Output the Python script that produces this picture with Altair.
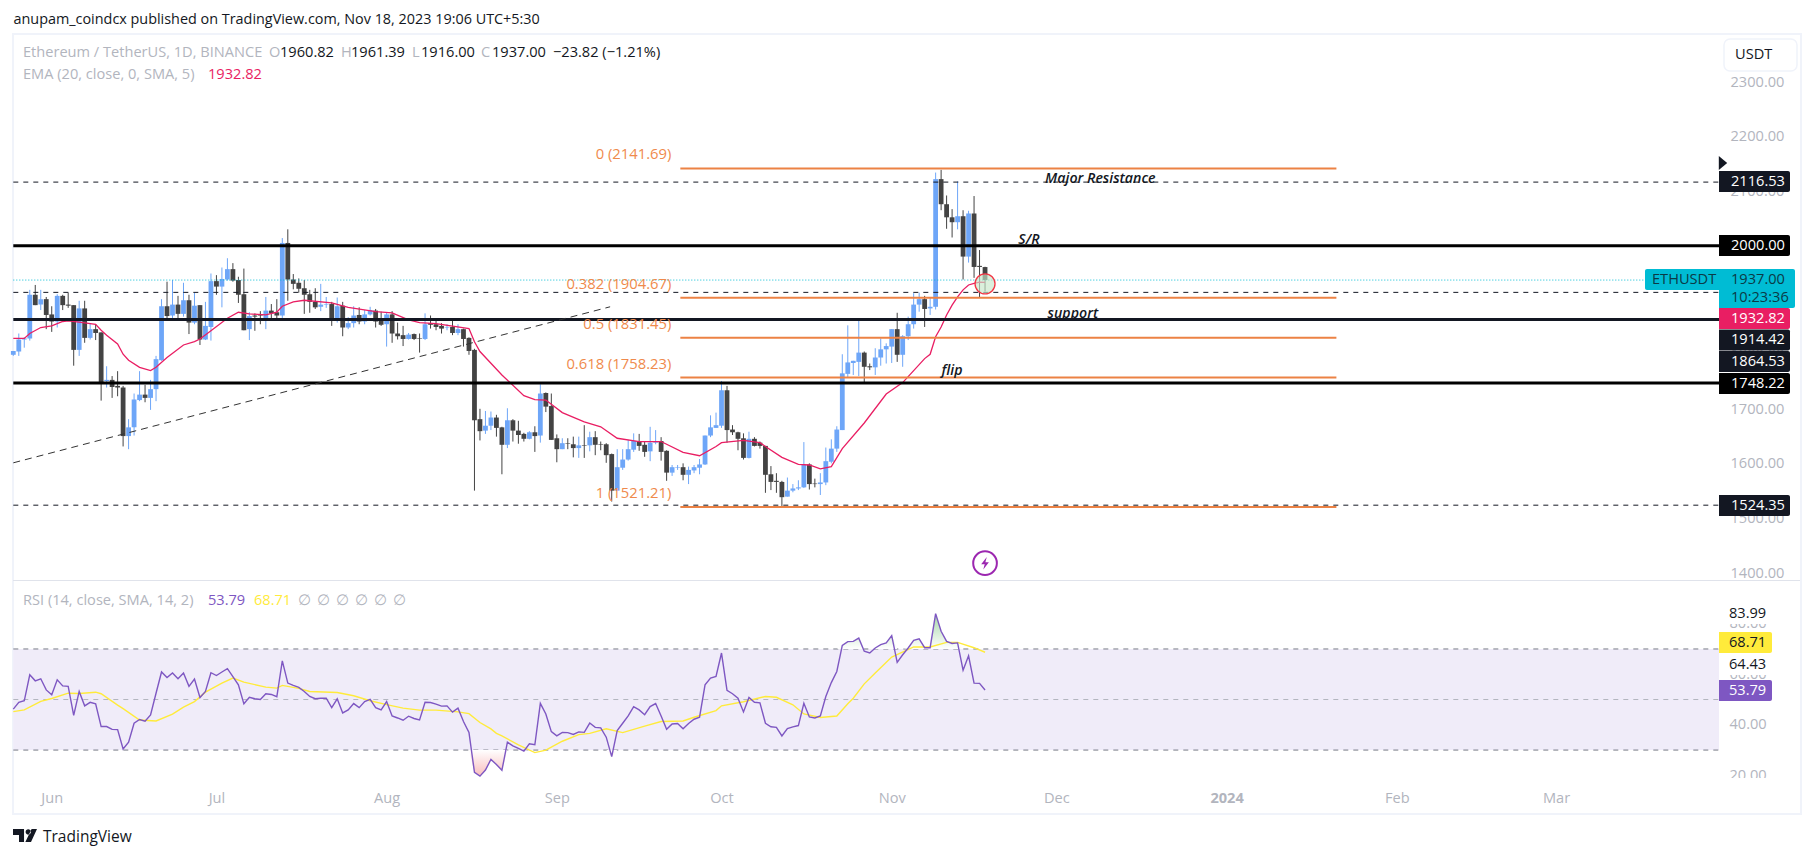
import altair as alt
import pandas as pd

FONT = "Open Sans"
W, H = 1798, 838

opens = [1800,1806,1828,1830,1910,1892,1902,1874,1861,1908,
1892,1891,1809,1885,1831,1847,1841,1752,1754,1743,
1740,1651,1667,1717,1727,1721,1737,1790,1889,1872,
1892,1875,1900,1859,1891,1828,1851,1935,1925,1938,
1957,1937,1911,1847,1872,1874,1862,1881,1878,1872,
2005,1938,1932,1922,1911,1897,1888,1892,1893,1866,
1890,1850,1858,1873,1861,1874,1881,1864,1856,1874,
1839,1836,1829,1838,1830,1829,1858,1856,1853,1850,
1851,1840,1847,1831,1809,1682,1661,1670,1685,1667,
1635,1680,1661,1655,1646,1658,1652,1730,1706,1647,
1627,1638,1636,1629,1634,1634,1649,1636,1636,1618,
1551,1593,1608,1626,1641,1635,1623,1639,1642,1624,
1584,1593,1594,1580,1588,1593,1599,1652,1666,1670,
1735,1663,1658,1647,1611,1646,1639,1633,1581,1569,
1567,1540,1551,1555,1557,1599,1564,1563,1566,1604,
1628,1662,1765,1785,1787,1804,1779,1777,1795,1810,
1815,1847,1800,1834,1856,1892,1902,1885,1888,2122,
2076,2052,2043,2054,1980,2059,1963,1960.82]

highs = [1807,1839,1832,1919,1928,1919,1906,1889,1911,1910,
1914,1891,1899,1899,1858,1856,1841,1779,1761,1770,
1743,1682,1729,1770,1745,1754,1798,1902,1934,1937,
1908,1932,1910,1914,1891,1897,1949,1946,1960,1977,
1968,1943,1958,1878,1876,1880,1906,1893,1902,2014,
2030,1948,1940,1937,1919,1922,1930,1906,1897,1905,
1897,1869,1889,1887,1882,1888,1884,1879,1878,1880,
1859,1853,1840,1839,1839,1876,1872,1865,1858,1856,
1862,1856,1848,1832,1811,1701,1697,1696,1690,1668,
1702,1682,1679,1657,1660,1669,1746,1731,1729,1654,
1647,1647,1650,1650,1671,1659,1660,1641,1638,1619,
1627,1627,1644,1656,1655,1641,1668,1662,1649,1625,
1598,1598,1601,1595,1598,1609,1652,1689,1694,1752,
1743,1671,1659,1656,1659,1649,1641,1633,1596,1583,
1569,1575,1563,1570,1640,1601,1573,1583,1630,1645,
1669,1801,1854,1789,1865,1806,1784,1812,1830,1821,
1847,1877,1836,1870,1913,1914,1908,1906,2134,2139,
2092,2067,2118,2065,2064,2091,1992,1961.39]

lows = [1798,1798,1813,1826,1891,1882,1847,1842,1850,1882,
1886,1780,1798,1822,1828,1827,1716,1740,1721,1724,
1632,1627,1652,1715,1713,1699,1715,1789,1866,1862,
1867,1870,1838,1856,1818,1827,1826,1910,1887,1936,
1934,1895,1845,1827,1844,1856,1847,1866,1867,1865,
1899,1920,1914,1875,1877,1884,1880,1886,1853,1859,
1834,1847,1850,1856,1856,1872,1850,1853,1815,1822,
1828,1816,1828,1827,1804,1827,1848,1845,1839,1845,
1836,1836,1815,1800,1551,1643,1655,1662,1650,1581,
1629,1641,1637,1641,1645,1622,1639,1695,1644,1603,
1627,1627,1612,1611,1611,1623,1616,1625,1602,1531,
1551,1589,1606,1622,1624,1613,1605,1636,1606,1569,
1578,1589,1570,1563,1583,1581,1598,1649,1666,1666,
1639,1653,1625,1608,1610,1632,1628,1547,1552,1547,
1520,1540,1548,1552,1556,1553,1557,1543,1561,1601,
1622,1662,1759,1763,1761,1749,1772,1763,1780,1784,
1785,1787,1778,1827,1848,1879,1851,1873,1883,2065,
2031,2015,2030,1938,1969,1941,1905,1916]

closes = [1807,1828,1830,1910,1891,1902,1873,1861,1908,1891,
1890,1809,1885,1831,1847,1840,1748,1754,1741,1740,
1651,1667,1718,1727,1721,1737,1792,1889,1871,1892,
1875,1900,1859,1890,1828,1853,1935,1925,1939,1957,
1936,1910,1845,1871,1870,1872,1881,1876,1872,2005,
1938,1930,1921,1910,1897,1887,1892,1893,1866,1889,
1850,1858,1872,1861,1874,1882,1861,1855,1874,1839,
1834,1829,1837,1829,1829,1856,1855,1851,1848,1851,
1840,1847,1829,1807,1680,1660,1670,1685,1666,1635,
1680,1661,1653,1646,1658,1651,1729,1705,1644,1627,
1638,1637,1629,1634,1633,1649,1635,1635,1616,1551,
1594,1608,1627,1642,1633,1622,1639,1642,1622,1584,
1594,1594,1580,1589,1594,1599,1652,1667,1671,1735,
1662,1658,1646,1611,1646,1633,1633,1580,1567,1567,
1539,1551,1555,1557,1599,1563,1563,1566,1605,1628,
1663,1766,1786,1789,1804,1778,1777,1795,1810,1816,
1847,1800,1834,1856,1892,1902,1884,1888,2122,2076,
2052,2043,2054,1980,2059,1961,1961,1937]

ema_idx = [1,3,4,6,8,10,11,13,16,17,18,20,21,22,24,26,27,29,32,34,35,37,40,42,44,47,49,50,52,54,
59,62,67,70,73,75,78,84,85,86,90,94,96,98,101,105,108,111,115,119,123,126,129,130,134,137,138,
141,144,146,148,150,152,156,160,163,165,167,168,169,170,171,172,173,174,175,176,177,178]
ema_val = [1830,1830,1839,1850,1853,1861,1862,1860,1856,1845,1836,1820,1801,1790,1777,1771,1777,
1795,1818,1824,1829,1844,1867,1878,1875,1873,1878,1889,1897,1900,1895,1887,1879,1877,1864,1859,
1857,1848,1824,1806,1763,1725,1718,1717,1694,1677,1668,1647,1641,1641,1621,1615,1632,1639,1643,
1639,1632,1612,1599,1598,1591,1595,1628,1675,1728,1749,1771,1793,1801,1833,1851,1873,1891,1906,
1919,1928,1931,1933,1932.82]

rsi = [46.2,48.9,49.5,59.8,57.4,58.2,53.8,51.9,57.8,55.4,55.2,43.7,53.2,47.5,48.9,48.3,39.3,39.3,
38.2,38.1,30.4,33.1,40.6,42.1,41.4,43.9,52.5,60.9,58.7,60.5,58.2,60.5,55.2,58.1,50.8,53.2,60.6,
59.5,60.9,62.2,59.1,55.8,48.3,50.9,50.3,50.0,52.3,52.0,51.1,65.3,56.5,55.6,54.8,53.2,51.2,50.3,
50.5,50.5,46.8,50.3,44.7,45.9,48.4,46.8,49.2,50.1,46.8,45.9,49.2,43.5,42.7,41.8,43.4,42.5,41.9,
48.9,48.8,48.2,47.4,47.5,45.0,46.6,41.3,37.0,21.2,19.7,22.1,26.3,24.3,
22.0,33.1,31.7,30.7,29.6,32.5,32.1,48.5,44.3,37.3,35.6,37.0,36.9,36.2,37.2,37.0,40.7,39.0,38.8,
35.1,27.4,37.7,40.6,43.5,47.2,45.9,44.0,47.2,48.4,43.5,38.2,40.3,40.5,38.4,40.5,42.2,43.0,55.8,
58.5,59.1,68.4,53.6,52.3,50.5,45.1,50.8,48.9,48.7,40.6,39.2,39.0,35.6,38.5,39.2,39.7,48.5,43.1,
42.7,43.5,51.2,56.7,61.1,71.4,72.9,73.0,74.3,69.1,68.4,70.4,71.7,72.4,75.3,64.7,67.7,70.4,73.4,
74.0,70.5,70.5,84.0,77.0,73.0,72.2,72.4,61.6,67.3,56.5,56.4,53.79]

ma_idx = [1,3,6,8,11,13,16,17,20,21,24,27,30,32,34,36,39,41,43,47,49,50,53,55,60,63,66,69,72,75,
78,82,84,86,88,89,90,93,96,98,101,104,106,109,112,116,119,123,125,129,130,134,138,140,143,145,
148,151,153,154,156,158,161,165,168,171,173,176,178]
ma_val = [45.2,45.9,49.3,50.4,52.5,52.4,52.9,52.3,47.8,46.4,41.9,41.5,44.2,47.0,49.2,52.9,56.5,
58.5,56.9,54.9,54.5,55.6,54.4,53.2,52.8,51.5,49.5,48.0,46.6,45.8,45.8,45.1,44.4,40.9,38.4,36.6,
35.6,32.1,29.0,30.0,33.5,36.1,36.6,38.4,36.9,39.5,41.3,41.5,43.0,45.6,47.5,49.1,51.2,50.9,47.9,
44.3,42.9,43.5,48.3,50.5,56.2,60.5,66.8,70.8,70.8,72.6,72.6,70.5,68.71]

thick_levels = [2000.0, 1864.53, 1748.22]
thick_colors = ["#000000", "#131722", "#000000"]
dashed_levels = [2116.53, 1914.42, 1524.35]
fib_levels = [2141.69, 1904.67, 1831.45, 1758.23, 1521.21]
fib_labels = ["0 (2141.69)", "0.382 (1904.67)", "0.5 (1831.45)", "0.618 (1758.23)", "1 (1521.21)"]
notes = ["Major Resistance", "S/R", "support", "flip"]
note_dates = ["2023-12-09", "2023-11-26", "2023-12-04", "2023-11-12"]
note_prices = [2122, 2010, 1875, 1770]
month_ticks = ["2023-06-01", "2023-07-01", "2023-08-01", "2023-09-01", "2023-10-01",
               "2023-11-01", "2023-12-01", "2024-01-01", "2024-02-01", "2024-03-01"]
trend_dates = ["2023-05-25", "2023-09-10T17:00:00"]
trend_prices = [1602, 1888]
price_ticks = [1400, 1500, 1600, 1700, 1800, 1900, 2000, 2100, 2200, 2300]
rsi_ticks = [20, 40, 60, 80]


def ms(s):
    return int((pd.Timestamp(s) - pd.Timestamp("1970-01-01")) // pd.Timedelta(milliseconds=1))


dates = [ms("2023-05-25") + i * 86400000 for i in range(len(closes))]
x0 = dates[0]
x1 = x0 + int(310.69 * 86400000)
x_scale = alt.Scale(type="utc", domain=[x0, x1], range=[5.3, 1711], nice=False, padding=0)
y_price = alt.Scale(domain=[1387.2, 2388], range=[572, 26], nice=False, zero=False)
y_rsi = alt.Scale(domain=[14.2, 96.9], range=[782, 573], nice=False, zero=False)

GREY = "#b2b5be"
TS = 14.6
x_axis = alt.Axis(
    values=[ms(d) for d in month_ticks], title=None, grid=False, domain=False, ticks=False,
    orient="bottom", offset=-58, labelPadding=2, labelFont=FONT, labelFontSize=TS, labelColor=GREY,
    labelOverlap=False, labelFlush=False,
    labelExpr="utcmonth(datum.value)==0 ? '2024' : utcFormat(datum.value,'%b')",
    labelFontWeight={"condition": {"test": "utcmonth(datum.value)==0", "value": "bold"}, "value": "normal"},
)
price_axis = alt.Axis(values=price_ticks, format=".2f", title=None, grid=False, domain=False, ticks=False,
                      orient="right", offset=-87, labelPadding=11, labelFont=FONT, labelFontSize=TS,
                      labelColor=GREY, labelOverlap=False, labelFlush=False)
rsi_axis = alt.Axis(values=rsi_ticks, format=".2f", title=None, grid=False, domain=False, ticks=False,
                    orient="right", offset=-87, labelPadding=10, labelFont=FONT, labelFontSize=TS,
                    labelColor=GREY, labelOverlap=False, labelFlush=False)

X = alt.X("date:T", scale=x_scale, axis=x_axis, title=None)
PY = lambda f: alt.Y(f, scale=y_price, axis=price_axis, title=None)
RY = lambda f: alt.Y(f, scale=y_rsi, axis=rsi_axis, title=None)
dir_color = alt.Color("dir:N", scale=alt.Scale(domain=["up", "down"], range=["#6ea6f8", "#434343"]), legend=None)

candles = pd.DataFrame({"date": dates, "open": opens, "high": highs, "low": lows, "close": closes})
candles["dir"] = ["up" if c >= o else "down" for o, c in zip(opens, closes)]

wicks = alt.Chart(candles).mark_rule(strokeWidth=1).encode(x=X, y=PY("low:Q"), y2="high:Q", color=dir_color)
bodies = alt.Chart(candles).mark_bar(size=4.8, stroke=None).encode(
    x=X, y=PY("open:Q"), y2="close:Q", color=dir_color)
ema_df = pd.DataFrame({"date": [dates[i - 1] for i in ema_idx], "v": ema_val})
ema = alt.Chart(ema_df).mark_line(color="#e91e63", strokeWidth=1.3).encode(x=X, y=PY("v:Q"))


def hrules(levels, start, end):
    return pd.DataFrame({"date": [start] * len(levels), "date2": [end] * len(levels), "p": levels})


thick = alt.layer(*[
    alt.Chart(hrules([lv], x0, x1)).mark_rule(strokeWidth=3, color=col).encode(x=X, x2="date2:T", y=PY("p:Q"))
    for lv, col in zip(thick_levels, thick_colors)])
dashed = alt.Chart(hrules(dashed_levels, x0, x1)).mark_rule(strokeWidth=1, color="#131722", strokeDash=[5, 5]).encode(
    x=X, x2="date2:T", y=PY("p:Q"))
last_dot = alt.Chart(hrules([closes[-1]], x0, x0 + int(297.2 * 86400000))).mark_rule(
    strokeWidth=1, color="#00bcd4", strokeDash=[1, 2]).encode(x=X, x2="date2:T", y=PY("p:Q"))
fib_a, fib_b = ms("2023-09-23T12:00:00"), ms("2024-01-21")
fib = alt.Chart(hrules(fib_levels, fib_a, fib_b)).mark_rule(strokeWidth=2, color="#ec8244").encode(
    x=X, x2="date2:T", y=PY("p:Q"))
fib_df = hrules(fib_levels, fib_a, fib_b)
fib_df["t"] = fib_labels
fib_txt = alt.Chart(fib_df).mark_text(align="right", baseline="middle", dx=-9, dy=-13, font=FONT, fontSize=14.8,
                                      color="#ef8a4c").encode(x=X, y=PY("p:Q"), text="t:N")
trend_df = pd.DataFrame({"date": [ms(d) for d in trend_dates], "p": trend_prices})
trend = alt.Chart(trend_df).mark_line(color="#333333", strokeWidth=1, strokeDash=[7, 5]).encode(x=X, y=PY("p:Q"))
note_df = pd.DataFrame({"date": [ms(d) for d in note_dates], "p": note_prices, "t": notes})
note_txt = alt.Chart(note_df).mark_text(font=FONT, fontSize=14.2, fontStyle="italic", fontWeight=600, color="#131722",
                                        baseline="middle").encode(x=X, y=PY("p:Q"), text="t:N")
marker = alt.Chart(pd.DataFrame({"date": [dates[-1]], "p": [1930]})).mark_point(
    shape="circle", size=400, filled=True, fill="#c8e6c9", fillOpacity=0.65, stroke="#f23645", strokeWidth=1.3,
    opacity=1).encode(x=X, y=PY("p:Q"))
bolt_ring = alt.Chart(pd.DataFrame({"date": [dates[-1]], "p": [1418]})).mark_point(
    shape="circle", size=560, filled=False, stroke="#9c27b0", strokeWidth=2, opacity=1).encode(x=X, y=PY("p:Q"))
bolt = alt.Chart(pd.DataFrame({"date": [dates[-1]], "p": [1418]})).mark_point(
    shape="M0.25,-0.9 L-0.55,0.15 L-0.05,0.15 L-0.25,0.9 L0.55,-0.15 L0.05,-0.15 Z", size=196, filled=True,
    fill="#9c27b0", strokeWidth=0, opacity=1).encode(x=X, y=PY("p:Q"))

price_group = alt.layer(wicks, bodies, ema, thick, dashed, last_dot, fib, fib_txt, trend, note_txt,
                        marker, bolt_ring, bolt)

band_df = pd.DataFrame({"date": [x0], "date2": [x1], "a": [70], "b": [30]})
band = alt.Chart(band_df).mark_rect(fill="#f0ecf9").encode(x=X, x2="date2:T", y=RY("a:Q"), y2="b:Q")
rsi_guides = alt.Chart(hrules([70, 30], x0, x1)).mark_rule(strokeWidth=1, color="#787b86", strokeDash=[5, 5]).encode(
    x=X, x2="date2:T", y=RY("p:Q"))
rsi_mid = alt.Chart(hrules([50], x0, x1)).mark_rule(strokeWidth=1, color="#b2b5be", strokeDash=[5, 5]).encode(
    x=X, x2="date2:T", y=RY("p:Q"))
rsi_df = pd.DataFrame({"date": dates, "v": rsi})
rsi_df["hi"] = rsi_df["v"].clip(lower=70)
rsi_df["lo"] = rsi_df["v"].clip(upper=30)
rsi_df["top"] = 70
rsi_df["bot"] = 30
ob = alt.Chart(rsi_df).mark_area(
    color=alt.Gradient(gradient="linear", x1=0, x2=0, y1=0, y2=1,
                       stops=[alt.GradientStop(color="#a5d6a7", offset=0), alt.GradientStop(color="#ffffff", offset=1)])
).encode(x=X, y=RY("hi:Q"), y2="top:Q")
os_ = alt.Chart(rsi_df).mark_area(
    color=alt.Gradient(gradient="linear", x1=0, x2=0, y1=0, y2=1,
                       stops=[alt.GradientStop(color="#ffffff", offset=0), alt.GradientStop(color="#f9bdbd", offset=1)])
).encode(x=X, y=RY("lo:Q"), y2="bot:Q")
rsi_line = alt.Chart(rsi_df).mark_line(color="#7e57c2", strokeWidth=1.4).encode(x=X, y=RY("v:Q"))
ma_df = pd.DataFrame({"date": [dates[i - 1] for i in ma_idx], "v": ma_val})
ma_line = alt.Chart(ma_df).mark_line(color="#ffeb3b", strokeWidth=1.4).encode(x=X, y=RY("v:Q"))
rsi_group = alt.layer(band, rsi_guides, rsi_mid, ob, os_, ma_line, rsi_line)

blank = alt.Data(values=[{"k": 1}])


def rect(xa, xb, ya, yb, fill, **kw):
    return alt.Chart(blank).mark_rect(fill=fill, **kw).encode(
        x=alt.value(xa - 8), x2=alt.value(xb - 8), y=alt.value(ya - 8), y2=alt.value(yb - 8))


def text(x, y, s, color, size=TS, align="left", **kw):
    return alt.Chart(blank).mark_text(text=s, color=color, fontSize=size, font=FONT, align=align,
                                      baseline="middle", **kw).encode(x=alt.value(x - 8), y=alt.value(y - 8))


def pill(y0, s, fill, color="#ffffff", x1_=1790, xt=1731):
    return [rect(1719, x1_, y0, y0 + 21, fill, cornerRadiusTopRight=2, cornerRadiusBottomRight=2),
            text(xt, y0 + 10.5, s, color)]


frame = alt.Chart(blank).mark_rect(fill=None, stroke="#f0f3fa", strokeWidth=2).encode(
    x=alt.value(13 - 8), x2=alt.value(1801 - 8), y=alt.value(34 - 8), y2=alt.value(814 - 8))
sep = rect(13, 1800, 580, 581, "#e0e3eb")

chrome = [sep]
chrome += [rect(1719, 1800, 778, 812, "#ffffff")]
chrome += [rect(1719, 1782, 603, 624, "#ffffff"), rect(1719, 1782, 654, 675, "#ffffff")]
chrome += [alt.Chart(blank).mark_rect(fill="#ffffff", stroke="#f0f3fa", strokeWidth=1.5, cornerRadius=6).encode(
    x=alt.value(1724 - 8), x2=alt.value(1797 - 8), y=alt.value(39 - 8), y2=alt.value(71 - 8))]
chrome += [text(1735, 55, "USDT", "#131722")]
chrome += [alt.Chart(blank).mark_point(shape="M-0.6,-1 L0.6,0 L-0.6,1 Z", size=196, filled=True, fill="#131722",
                                       strokeWidth=0, opacity=1).encode(x=alt.value(1723 - 8), y=alt.value(163 - 8))]
chrome += pill(171, "2116.53", "#131722")
chrome += pill(235, "2000.00", "#000000")
chrome += [rect(1645, 1719, 269, 290, "#00bcd4", cornerRadiusTopLeft=2, cornerRadiusBottomLeft=2),
           rect(1719, 1795, 269, 308, "#00bcd4", cornerRadiusTopRight=2, cornerRadiusBottomRight=2),
           text(1652, 279.5, "ETHUSDT", "#0b3a46"), text(1731, 279.5, "1937.00", "#0b3a46"),
           text(1731, 298, "10:23:36", "#0b3a46")]
chrome += pill(308, "1932.82", "#e91e63")
chrome += pill(329.5, "1914.42", "#131722")
chrome += pill(351, "1864.53", "#131722")
chrome += pill(373, "1748.22", "#000000")
chrome += pill(495, "1524.35", "#131722")
chrome += [text(1729, 614, "83.99", "#131722"), text(1729, 664.5, "64.43", "#131722")]
chrome += pill(632, "68.71", "#ffeb3b", "#131722", 1772, 1729)
chrome += pill(680, "53.79", "#7e57c2", "#ffffff", 1772, 1729)

head = [
    text(13.5, 20, "anupam_coindcx published on TradingView.com, Nov 18, 2023 19:06 UTC+5:30", "#131722", size=14.4),
    text(23, 53, "Ethereum / TetherUS, 1D, BINANCE", GREY),
    text(269, 53, "O", GREY), text(280, 53, "1960.82", "#131722"),
    text(341, 53, "H", GREY), text(351, 53, "1961.39", "#131722"),
    text(412, 53, "L", GREY), text(421, 53, "1916.00", "#131722"),
    text(481, 53, "C", GREY), text(492, 53, "1937.00", "#131722"),
    text(553, 53, "\u221223.82 (\u22121.21%)", "#131722"),
    text(23, 75, "EMA (20, close, 0, SMA, 5)", GREY),
    text(208, 75, "1932.82", "#e91e63"),
    text(23, 601, "RSI (14, close, SMA, 14, 2)", GREY),
    text(208, 601, "53.79", "#7e57c2"),
    text(254, 601, "68.71", "#ffeb3b"),
]
head += [text(x, 601, "\u2205", GREY, align="center") for x in [304, 323, 342, 361, 380, 399]]
logo = alt.Chart(blank).mark_point(
    shape="M-1,-0.54 H-0.08 V0.54 H-0.5 V-0.04 H-1 Z M0.05,-0.3 a0.22,0.22 0 1,0 0.44,0 a0.22,0.22 0 1,0 -0.44,0 Z M0.55,-0.54 H1 L0.5,0.54 H0.03 Z",
    size=576, filled=True, fill="#131722", strokeWidth=0, opacity=1).encode(x=alt.value(25 - 8), y=alt.value(835.5 - 8))
head += [logo, text(43, 837, "TradingView", "#131722", size=15.5)]

chart = alt.layer(frame, rsi_group, price_group, *chrome, *head).resolve_scale(y="independent").properties(
    width=W, height=H, padding=0, background="#ffffff", autosize=alt.AutoSizeParams(type="none")
).configure_view(stroke=None)

chart.save("out.html", embed_options={"renderer": "svg", "actions": False})
